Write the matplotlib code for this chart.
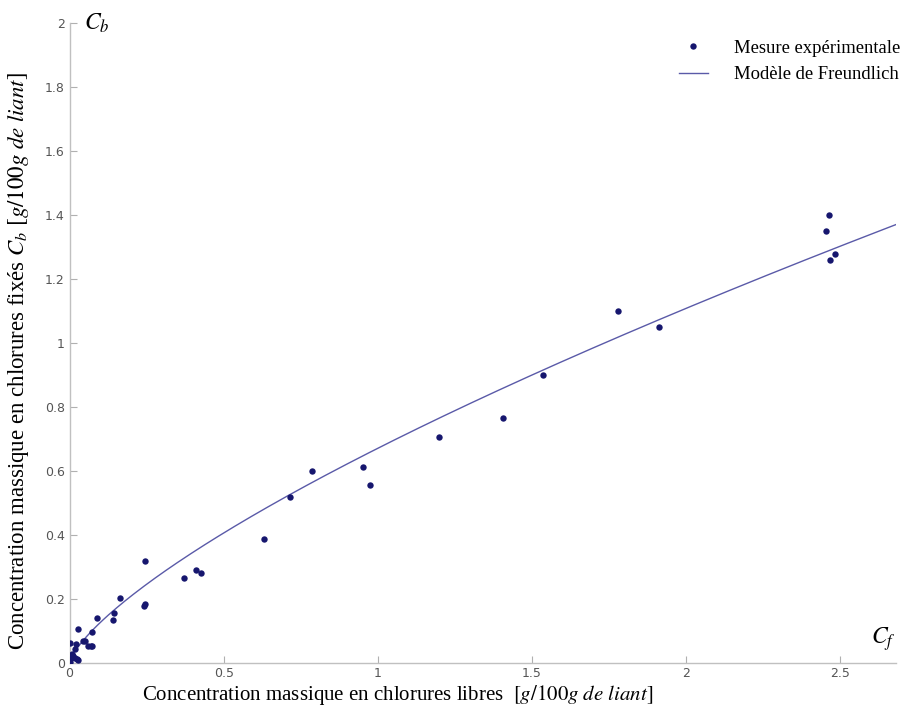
import numpy as np
import matplotlib
matplotlib.use('Agg')
import matplotlib.pyplot as plt

plt.rcParams['mathtext.fontset'] = 'stix'

# measured points (Cf, Cb) in g/100g de liant
cf_mes = [2.462, 2.454, 2.481, 2.465, 1.779, 1.913, 1.535, 1.405, 1.197, 0.951,
          0.974, 0.786, 0.716, 0.630, 0.426, 0.411, 0.372, 0.244, 0.245, 0.240,
          0.163, 0.143, 0.142, 0.090, 0.073, 0.074, 0.069, 0.059, 0.049, 0.044,
          0.029, 0.020, 0.017, 0.002, 0.007, 0.012, 0.029, 0.023, 0.017, 0.002,
          0.004, 0.009]
cb_mes = [1.399, 1.349, 1.279, 1.258, 1.100, 1.050, 0.900, 0.765, 0.706, 0.612,
          0.556, 0.600, 0.519, 0.387, 0.282, 0.289, 0.264, 0.320, 0.184, 0.179,
          0.202, 0.156, 0.133, 0.142, 0.097, 0.054, 0.052, 0.054, 0.068, 0.069,
          0.107, 0.060, 0.045, 0.061, 0.027, 0.022, 0.010, 0.011, 0.015, 0.004,
          0.015, 0.022]

# Freundlich model Cb = K * Cf^n
K_F = 0.671
N_F = 0.724
cf_model = np.linspace(0.02, 2.68, 300)
cb_model = K_F * cf_model ** N_F

xticks = [0, 0.5, 1, 1.5, 2, 2.5]
xtick_labels = ['0', '0.5', '1', '1.5', '2', '2.5']
yticks = [0, 0.2, 0.4, 0.6, 0.8, 1, 1.2, 1.4, 1.6, 1.8, 2]
ytick_labels = ['0', '0.2', '0.4', '0.6', '0.8', '1', '1.2', '1.4', '1.6', '1.8', '2']

fig = plt.figure(figsize=(9.05, 7.08), dpi=100)
ax = fig.add_axes([0.0768, 0.0636, 0.9132, 0.904])

ax.plot(cf_mes, cb_mes, 'o', color='#16166e', markersize=4.6, markeredgewidth=0,
        label='Mesure expérimentale', zorder=3)
ax.plot(cf_model, cb_model, '-', color='#5a5aa8', linewidth=1.0,
        label='Modèle de Freundlich')

ax.set_xlim(0, 2.68)
ax.set_ylim(0, 2)
ax.set_xticks(xticks)
ax.set_xticklabels(xtick_labels)
ax.set_yticks(yticks)
ax.set_yticklabels(ytick_labels)

for s in ['top', 'right']:
    ax.spines[s].set_visible(False)
for s in ['left', 'bottom']:
    ax.spines[s].set_color('#c0c0c0')
    ax.spines[s].set_linewidth(1.0)
ax.tick_params(direction='in', length=5, color='#b0b0b0', labelcolor='#555555',
               labelsize=9)
ax.tick_params(axis='x', pad=3)

serif = ['Liberation Serif', 'DejaVu Serif']
ax.set_xlabel(r'Concentration massique en chlorures libres  $[g/100g\ de\ liant]$',
              fontsize=15, family=serif)
ax.xaxis.set_label_coords(0.397, -0.032)
ax.set_ylabel(r'Concentration massique en chlorures fixés $C_b$ $[g/100g\ de\ liant]$',
              fontsize=16.5, family=serif)
ax.yaxis.set_label_coords(-0.047, 0.472)

ax.text(0.048, 2.0, r'$C_b$', fontsize=17, ha='left', va='center')
ax.text(2.68, 0.03, r'$C_f$', fontsize=17, ha='right', va='bottom')

leg = ax.legend(loc='upper right', bbox_to_anchor=(1.026, 1.0), frameon=False,
                prop={'family': serif, 'size': 13.4}, handlelength=1.6,
                handletextpad=1.4, labelspacing=0.5)

fig.savefig('out.png', dpi=100)
